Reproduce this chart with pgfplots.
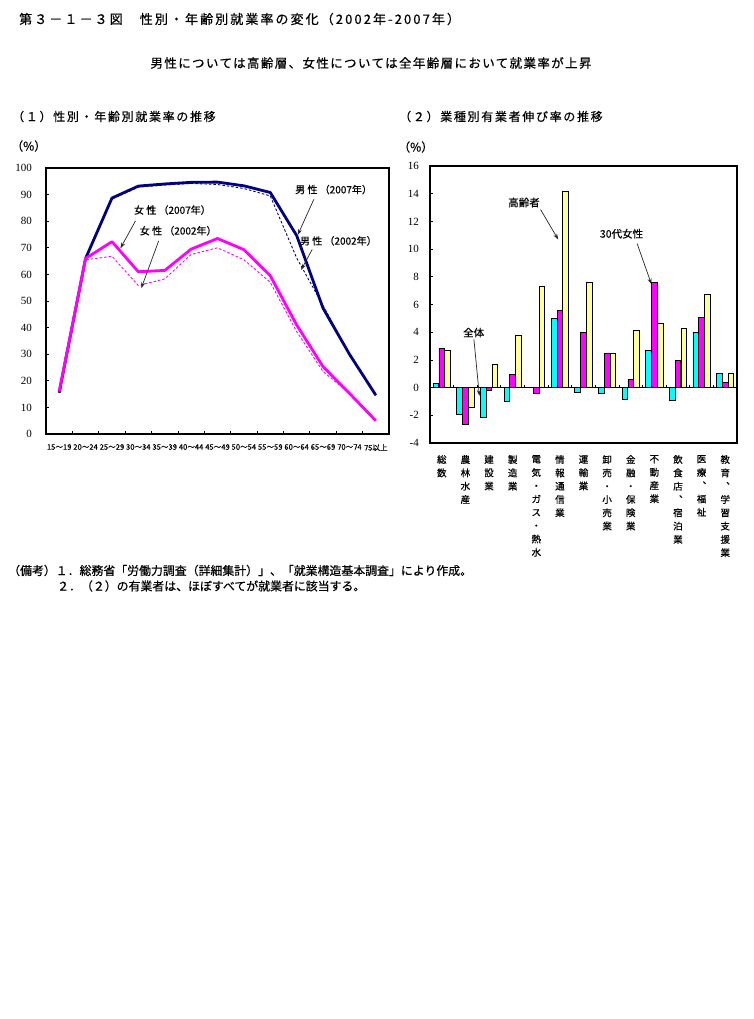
\documentclass[border=0pt]{standalone}
\usepackage{fontspec}
\usepackage{pgfplots}
\pgfplotsset{compat=1.18}
\usetikzlibrary{arrows.meta}
\setmainfont{Noto Sans CJK JP}
\newfontfamily\jp[FakeBold=0.5]{Noto Sans CJK JP}
\newfontfamily\jpT[LetterSpace=16,FakeBold=0.5]{Noto Sans CJK JP}
\newfontfamily\jpS[LetterSpace=11,FakeBold=0.5]{Noto Sans CJK JP}
\newfontfamily\jpH[LetterSpace=14,FakeBold=0.5]{Noto Sans CJK JP}
\newfontfamily\serifnum{Liberation Serif}
\definecolor{navyline}{RGB}{0,0,128}
\definecolor{mag}{RGB}{255,0,255}
\definecolor{cy}{RGB}{0,255,255}
\definecolor{ylw}{RGB}{255,255,153}

\pgfplotstableread{
x m07 m02 f07 f02
0 15.5 15.5 16.0 16.0
1 66.0 66.0 66.0 65.5
2 88.7 88.3 72.3 66.8
3 93.2 92.8 61.0 55.8
4 94.0 93.6 61.5 58.3
5 94.6 94.2 69.5 67.5
6 94.7 93.8 73.5 70.0
7 93.3 92.3 69.3 65.5
8 90.8 89.5 59.5 57.0
9 74.6 66.2 41.0 38.5
10 47.3 48.3 25.3 23.5
11 30.0 30.0 15.3 15.3
12 14.6 14.5 5.0 5.0
}\rates

\pgfplotstableread{
x all f30 old
0 0.3 2.85 2.7
1 -1.95 -2.65 -1.45
2 -2.15 -0.2 1.7
3 -1.0 0.95 3.8
4 0 -0.4 7.3
5 5.0 5.6 14.15
6 -0.35 3.95 7.6
7 -0.4 2.45 2.5
8 -0.85 0.6 4.15
9 2.7 7.6 4.65
10 -0.95 1.95 4.3
11 4.0 5.05 6.7
12 1.0 0.35 1.0
}\growth

\begin{document}
\begin{tikzpicture}
\fill[white] (0pt,0pt) rectangle (754pt,-1019pt);
\path[use as bounding box] (0pt,0pt) rectangle (754pt,-1019pt);

% titles
\node[anchor=west,inner sep=0pt,font=\jpT\fontsize{13}{14}\selectfont] at (19pt,-19pt)
  {第３－１－３図　性別・年齢別就業率の変化（2002年-2007年）};
\node[anchor=center,inner sep=0pt,font=\jpS\fontsize{12.5}{13}\selectfont] at (371pt,-63pt)
  {男性については高齢層、女性については全年齢層において就業率が上昇};
\node[anchor=west,inner sep=0pt,font=\jpH\fontsize{12}{13}\selectfont] at (12pt,-116.5pt)
  {（１）性別・年齢別就業率の推移};
\node[anchor=west,inner sep=0pt,font=\jpH\fontsize{12}{13}\selectfont] at (399pt,-116.5pt)
  {（２）業種別有業者伸び率の推移};
\node[anchor=west,inner sep=0pt,font=\jp\fontsize{12}{12}\selectfont] at (11pt,-146pt) {（\%）};
\node[anchor=west,inner sep=0pt,font=\jp\fontsize{12}{12}\selectfont] at (398pt,-147pt) {（\%）};

% notes
\node[anchor=west,inner sep=0pt,font=\jp\fontsize{11.9}{12}\selectfont] at (8pt,-570.5pt)
  {（備考）１．総務省「労働力調査（詳細集計）」、「就業構造基本調査」により作成。};
\node[anchor=west,inner sep=0pt,font=\jp\fontsize{11.9}{12}\selectfont] at (57pt,-586pt)
  {２．（２）の有業者は、ほぼすべてが就業者に該当する。};

% ---------- left chart ----------
\begin{axis}[
  at={(46pt,-434pt)}, anchor=south west,
  scale only axis, width=343pt, height=266pt,
  xmin=-0.5, xmax=12.5, ymin=0, ymax=100,
  ytick={0,10,...,100},
  xtick={0,...,12},
  xticklabels={15～19,20～24,25～29,30～34,35～39,40～44,45～49,50～54,55～59,60～64,65～69,70～74,75以上},
  minor xtick={0.5,1.5,...,11.5},
  xtick pos=bottom, ytick pos=left,
  tick align=inside,
  major x tick style={draw=none},
  minor tick length=3pt, major tick length=3pt,
  tick style={black, line width=0.8pt},
  axis line style={line width=2pt},
  /pgf/number format/assume math mode=true,
  yticklabel style={font=\serifnum\fontsize{11}{11}\selectfont, inner sep=0pt, xshift=-14pt},
  xticklabel style={font=\jp\fontsize{7.6}{8}\selectfont, inner sep=0pt, yshift=-10pt},
  clip=false,
]
\addplot[navyline, line width=0.9pt, dash pattern=on 2.5pt off 2pt] table[x=x,y=m02] {\rates};
\addplot[mag, line width=0.9pt, dash pattern=on 2.5pt off 2pt] table[x=x,y=f02] {\rates};
\addplot[navyline, line width=2.8pt, line join=round] table[x=x,y=m07] {\rates};
\addplot[mag, line width=2.8pt, line join=round] table[x=x,y=f07] {\rates};

\node[font=\jp\fontsize{10}{10}\selectfont, inner sep=0pt] at (10.40,91.9) {男 性 （2007年）};
\node[font=\jp\fontsize{10}{10}\selectfont, inner sep=0pt] at (10.58,72.6) {男 性 （2002年）};
\node[font=\jp\fontsize{10}{10}\selectfont, inner sep=0pt] at (4.29,84.2) {女 性 （2007年）};
\node[font=\jp\fontsize{10}{10}\selectfont, inner sep=0pt] at (4.51,76.4) {女 性 （2002年）};
\draw[-{Stealth[length=6pt,width=4pt]}, line width=0.7pt, black!85] (9.65,88.2) -- (9.04,74.8);
\draw[-{Stealth[length=6pt,width=4pt]}, line width=0.7pt, black!85] (9.59,69.4) -- (9.17,61.7);
\draw[-{Stealth[length=6pt,width=4pt]}, line width=0.7pt, black!85] (2.89,80.1) -- (2.32,69.8);
\draw[-{Stealth[length=6pt,width=4pt]}, line width=0.7pt, black!85] (3.77,72.6) -- (3.11,54.8);
\end{axis}

% ---------- right chart ----------
\begin{axis}[
  at={(430pt,-443pt)}, anchor=south west,
  scale only axis, width=307pt, height=277pt,
  xmin=-0.5, xmax=12.5, ymin=-4, ymax=16,
  ytick={-4,-2,...,16},
  xtick={0,...,12},
  xticklabels={
    {総\\数},
    {農\\林\\水\\産},
    {建\\設\\業},
    {製\\造\\業},
    {電\\気\\・\\ガ\\ス\\・\\熱\\水},
    {情\\報\\通\\信\\業},
    {運\\輸\\業},
    {卸\\売\\・\\小\\売\\業},
    {金\\融\\・\\保\\険\\業},
    {不\\動\\産\\業},
    {飲\\食\\店\\︑\\宿\\泊\\業},
    {医\\療\\︑\\福\\祉},
    {教\\育\\︑\\学\\習\\支\\援\\業}},
  xtick pos=bottom, ytick pos=left,
  tick align=inside,
  major x tick style={draw=none},
  major tick length=3pt,
  tick style={black, line width=0.8pt},
  axis line style={line width=2pt},
  /pgf/number format/assume math mode=true,
  yticklabel style={font=\serifnum\fontsize{11}{11}\selectfont, inner sep=0pt, xshift=-11pt},
  xticklabel style={font=\jp\fontsize{9.5}{13.3}\selectfont, align=center, anchor=north, inner sep=0pt, yshift=-9pt},
  ybar, bar width=0.24,
  clip=false,
]
\addplot[fill=cy, draw=black, line width=0.8pt, bar shift=-0.245] table[x=x,y=all] {\growth};
\addplot[fill=mag, draw=black, line width=0.8pt, bar shift=0] table[x=x,y=f30] {\growth};
\addplot[fill=ylw, draw=black, line width=0.8pt, bar shift=0.245] table[x=x,y=old] {\growth};
\draw[black, line width=0.8pt] (-0.5,0) -- (12.5,0);
\pgfplotsinvokeforeach{0.5,1.5,2.5,3.5,4.5,5.5,6.5,7.5,8.5,9.5,10.5,11.5}{
  \draw[black, line width=0.8pt] (#1,0) -- ++(0pt,3pt);
}
\node[font=\jp\fontsize{10.5}{10}\selectfont, inner sep=0pt] at (3.48,13.37) {高齢者};
\node[font=\jp\fontsize{10.5}{10}\selectfont, inner sep=0pt] at (7.61,11.11) {30代女性};
\node[font=\jp\fontsize{10.5}{10}\selectfont, inner sep=0pt] at (1.35,3.97) {全体};
\draw[-{Stealth[length=6pt,width=4pt]}, line width=0.7pt, black!85] (4.18,12.86) -- (4.93,10.69);
\draw[-{Stealth[length=6pt,width=4pt]}, line width=0.7pt, black!85] (8.27,10.4) -- (8.88,7.45);
\draw[-{Stealth[length=6pt,width=4pt]}, line width=0.7pt, black!85] (1.36,3.48) -- (1.59,-0.6);
\end{axis}
\end{tikzpicture}
\end{document}
